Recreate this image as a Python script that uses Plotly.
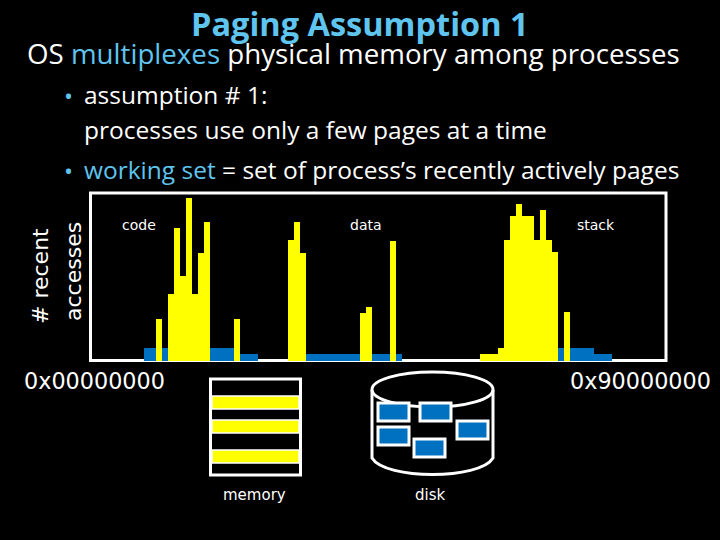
import plotly.graph_objects as go

# bin index along the address space, access counts per bin
yellow_bins = [11, 13, 14, 15, 16, 17, 18, 19, 24, 33, 34, 35, 45, 46, 50,
               65, 66, 67, 68, 69, 70, 71, 72, 73, 74, 75, 76, 77, 79]
yellow_vals = [42, 67, 133, 85, 163, 67, 108, 139, 42, 121, 139, 108, 48, 54, 120,
               7, 7, 7, 13, 121, 145, 157, 145, 145, 121, 151, 121, 109, 49]
blue_bins = list(range(9, 25)) + [25, 26, 27] + list(range(33, 52)) + list(range(76, 84)) + [84, 85, 86]
blue_vals = [13] * 16 + [7] * 3 + [7] * 19 + [13] * 8 + [7] * 3

title_text = "Paging Assumption 1"
x_left_label = "0x00000000"
x_right_label = "0x90000000"
y_label_lines = ["# recent", "accesses"]
region_labels = ["code", "data", "stack"]
region_px = [139, 366, 596]
disk_pages = [(377, 402), (419, 402), (377, 426), (413, 438), (456, 420)]
memory_pages = [(396, 409), (420, 433), (450, 463)]

W, H = 720, 540
BLUE = "#0070C0"
YEL = "#FFFF00"
ACC = "#5FC4EE"
BODY = "Open Sans"
MONO = "DejaVu Sans"


def px(x):
    return x / W


def py(y):
    return 1 - y / H


fig = go.Figure()
fig.add_bar(x=blue_bins, y=blue_vals, width=1, marker=dict(color=BLUE, line_width=0), name="on disk")
fig.add_bar(x=yellow_bins, y=yellow_vals, width=1, marker=dict(color=YEL, line_width=0), name="accessed")

shapes = []


def rect(x0, y0, x1, y1, line=None, lw=0, fill=None, layer="above"):
    shapes.append(dict(type="rect", xref="paper", yref="paper", x0=px(x0), x1=px(x1), y0=py(y0), y1=py(y1),
                       line=dict(color=line or "rgba(0,0,0,0)", width=lw),
                       fillcolor=fill or "rgba(0,0,0,0)", layer=layer))


# plot frame
rect(90.5, 193, 666, 360.5, line="white", lw=3, layer="below")

# memory
rect(210.5, 379, 300.5, 475, line="white", lw=3)
for y0, y1 in memory_pages:
    rect(212, y0, 299, y1, fill=YEL, line="white", lw=1.5)

# disk
shapes.append(dict(type="circle", xref="paper", yref="paper", x0=px(372), x1=px(493), y0=py(372), y1=py(407),
                   line=dict(color="white", width=3), layer="above"))
shapes.append(dict(type="path", xref="paper", yref="paper",
                   path=f"M {px(372)} {py(390)} L {px(372)} {py(458)} "
                        f"C {px(385)} {py(480)} {px(480)} {py(480)} {px(493)} {py(458)} L {px(493)} {py(390)}",
                   line=dict(color="white", width=3), layer="above"))
for x0, y0 in disk_pages:
    rect(x0 + 1, y0 + 1, x0 + 32, y0 + 19, fill=BLUE, line="white", lw=3)

ann = []


def text(x, y, s, size, color="white", family=BODY, anchor="left", angle=0):
    ann.append(dict(xref="paper", yref="paper", x=px(x), y=py(y), text=s, showarrow=False, textangle=angle,
                    xanchor=anchor, yanchor="middle", align="left",
                    font=dict(size=size, color=color, family=family)))


text(360, 23, f"<b>{title_text}</b>", 32.5, color=ACC, anchor="center")
text(25, 53, f'OS <span style="color:{ACC}">multiplexes</span> physical memory among processes', 27.7)
text(62, 95, "•", 24, color=ACC)
text(82, 94.5, "assumption # 1:", 24.5)
text(82, 129.5, "processes use only a few pages at a time", 24.5)
text(62, 170, "•", 24, color=ACC)
text(82, 169.5, f'<span style="color:{ACC}">working set</span> = set of process’s recently actively pages', 24.5)
for s, x in zip(region_labels, region_px):
    text(x, 225, s, 14, family=MONO, anchor="center")
text(94.5, 381, x_left_label, 22.3, family=MONO, anchor="center")
text(640.5, 381, x_right_label, 22.3, family=MONO, anchor="center")
text(254, 495, "memory", 15, family=MONO, anchor="center")
text(430, 495, "disk", 15, family=MONO, anchor="center")
text(40, 276, y_label_lines[0], 22, family=MONO, anchor="center", angle=-90)
text(73, 272, y_label_lines[1], 22, family=MONO, anchor="center", angle=-90)

fig.update_layout(
    width=W, height=H, margin=dict(l=0, r=0, t=0, b=0),
    paper_bgcolor="black", plot_bgcolor="black", showlegend=False, barmode="overlay", bargap=0,
    shapes=shapes, annotations=ann,
    xaxis=dict(domain=[px(90), px(666)], range=[-0.5, 95.5], visible=False),
    yaxis=dict(domain=[py(361), py(192)], range=[0, 169], visible=False),
)
fig.write_html("out.html", config=dict(displayModeBar=False),
               post_script="document.body.style.margin='0';document.body.style.background='black';")
